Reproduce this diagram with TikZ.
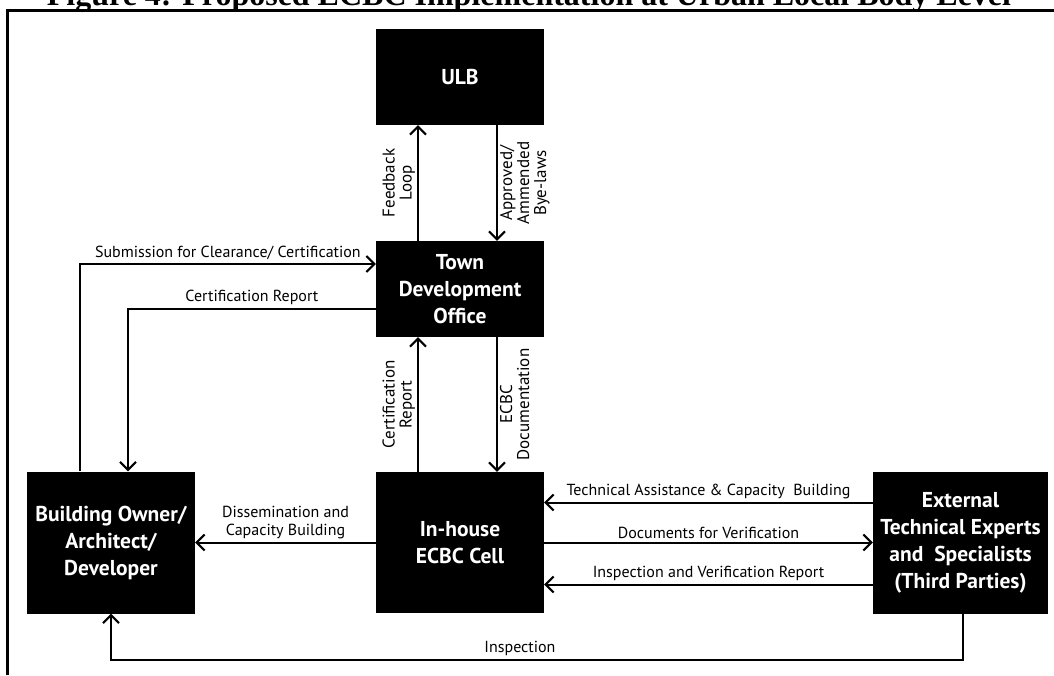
\documentclass[tikz,border=0pt]{standalone}
\usepackage{fontspec}
\newfontfamily\boxfont{PT Sans}
\newfontfamily\capfont{Liberation Serif}
\usetikzlibrary{positioning,arrows.meta}

\begin{document}
\begin{tikzpicture}[x=1pt,y=1pt,on grid,
	>={Straight Barb[length=8pt,width=16pt]},
	unit/.style={fill=black,text=white,minimum width=168pt,minimum height=96pt,inner sep=0pt,align=center,font=\boxfont\bfseries\fontsize{21.5}{27}\selectfont},
	flow/.style={->,line width=2pt},
	lbl/.style={align=center,inner sep=3pt,font=\boxfont\fontsize{16}{18}\selectfont},
	vlbl/.style={lbl,rotate=90,inner sep=2pt,font=\boxfont\fontsize{17}{17}\selectfont}]
	\useasboundingbox (0,0) rectangle (1054,675);
	% caption, its upper part lies above the page
	\node[anchor=base,font=\capfont\bfseries\fontsize{32}{34}\selectfont] (cap) at (529,669) {Figure 4: Proposed ECBC Implementation at Urban Local Body Level};
	\draw[line width=3pt] (7.5,0) |- (1060,664.5);

	\node[unit] (ulb) at (460,598) {ULB};
	\node[unit] (town) [below=212pt of ulb] {Town\\Development\\Office};
	\node[unit,minimum height=141pt] (cell) [below=253.5pt of town] {In-house\\ECBC Cell};
	\node[unit,minimum height=142pt] (owner) [left=349pt of cell] {Building Owner/\\Architect/\\Developer};
	\node[unit,minimum width=175pt,minimum height=142pt] (expert) [right=500.5pt of cell] {External\\Technical Experts\\and~ Specialists\\(Third Parties)};

	\path[flow]
	([xshift=-42pt]town.north) edge node[vlbl,anchor=south] {Feedback\\Loop} ([xshift=-42pt]ulb.south)
	([xshift=37pt]ulb.south) edge node[vlbl,anchor=north] {Approved/\\Ammended\\Bye-laws} ([xshift=37pt]town.north)
	([xshift=-42pt]cell.north) edge node[vlbl,anchor=south] {Certification\\Report} ([xshift=-42pt]town.south)
	([xshift=37pt]town.south) edge node[vlbl,anchor=north] {ECBC\\Documentation} ([xshift=37pt]cell.north)
	(cell.west) edge node[lbl,above] {Dissemination and\\Capacity Building} (owner.east)
	([yshift=40pt]expert.west) edge node[lbl,above] {Technical Assistance \& Capacity~ Building} ([yshift=40pt]cell.east)
	(cell.east) edge node[lbl,above] {Documents for Verification} (expert.west)
	([yshift=-42pt]expert.west) edge node[lbl,above] {Inspection and Verification Report} ([yshift=-42pt]cell.east);

	\draw[flow] ([xshift=-31pt]owner.north) |- node[lbl,above,pos=0.75] {Submission for Clearance/ Certification} ([yshift=25pt]town.west);
	\draw[flow] ([yshift=-20pt]town.west) -| node[lbl,above,pos=0.25] {Certification Report} ([xshift=17pt]owner.north);
	\draw[flow] ([xshift=2.5pt]expert.south) -- ++(0,-46) -| node[lbl,above,pos=0.26] {Inspection} (owner.south);
\end{tikzpicture}
\end{document}
